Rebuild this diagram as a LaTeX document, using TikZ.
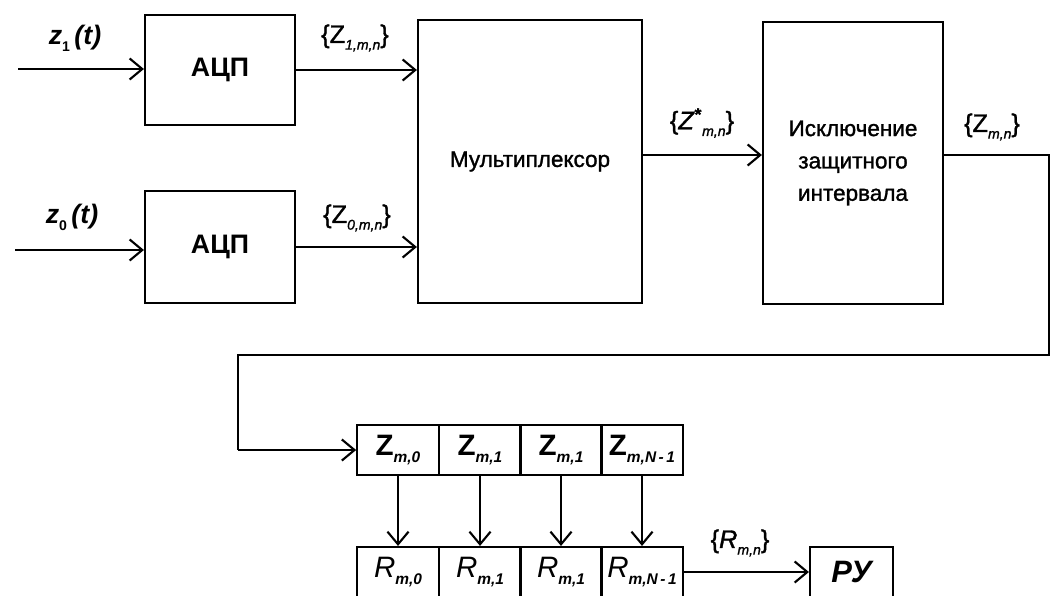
\documentclass[tikz,border=0pt]{standalone}
\usepackage{fontspec}
\setmainfont{Liberation Sans}
\newfontfamily\heavy[FakeBold=1.3]{Liberation Sans}
\usepackage{tikz}
\usetikzlibrary{arrows.meta,calc,positioning}

\newcommand{\sub}[1]{\raisebox{-0.45ex}{\fontsize{11}{11}\selectfont\bfseries\itshape #1}}
\newcommand{\lsub}[1]{\raisebox{-0.5ex}{\fontsize{10}{10}\selectfont\itshape #1}}

\begin{document}
\begin{tikzpicture}[
  x=0.025cm, y=-0.025cm,
  font=\fontsize{16}{23}\selectfont\heavy,
  >={Straight Barb[length=9pt,width=15pt,line width=1.5pt]},
  edge/.style={->,line width=1.5pt,draw=black},
  wire/.style={line width=1.5pt,draw=black},
  block/.style={draw=black,line width=1.5pt,align=center,inner sep=0pt},
  cell/.style={draw=black,line width=1.5pt,minimum width=2.04cm,
               minimum height=1.25cm,inner sep=0pt,
               font=\fontsize{21}{22}\selectfont},
  lbl/.style={inner sep=1pt,font=\fontsize{18}{20}\selectfont\heavy}
]
\useasboundingbox (0,0) rectangle (1052,595);
\clip (0,0) rectangle (1052,595);

% converters and multiplexer
\node[block,minimum width=3.75cm,minimum height=2.75cm,
      font=\fontsize{19}{20}\selectfont\bfseries] (adc1) at (220,70) {АЦП};
\node[block,minimum width=3.75cm,minimum height=2.8cm,
      font=\fontsize{19}{20}\selectfont\bfseries] (adc0) at (220,247) {АЦП};
\node[block,minimum width=5.6cm,minimum height=7.075cm] (mux) at (530,161.5)
  {Мультиплексор};
\node[block,minimum width=4.5cm,minimum height=7.05cm] (guard) at (853,163)
  {Исключение\\защитного\\интервала};

% inputs
\coordinate (in1) at (18,69);
\coordinate (in0) at (15,250);
\node[lbl,font=\fontsize{19}{20}\selectfont\bfseries\itshape] (z1) at (75,38)
  {z\lsub{\upshape 1}\,(t)};
\node[lbl,font=\fontsize{19}{20}\selectfont\bfseries\itshape] (z0) at (72,217)
  {z\lsub{\upshape 0}\,(t)};
\draw[edge] (in1) -- (adc1.west |- in1);
\draw[edge] (in0) -- (adc0.west |- in0);

\draw[edge] (adc1.east) -- (mux.west |- adc1.east);
\draw[edge] (adc0.east) -- (mux.west |- adc0.east);
\node[lbl] (l1) at (355,38) {\{Z\lsub{1,m,n}\}};
\node[lbl] (l0) at (357,218) {\{Z\lsub{0,m,n}\}};

\draw[edge] (mux.east |- 0,155) -- (guard.west |- 0,155);
\node[lbl] (lmux) at (702,123)
  {\{\textit{Z}\textsuperscript{\bfseries *}\lsub{m,n}\}};
\node[lbl] (lg) at (992,127) {\{Z\lsub{m,n}\}};

% register cells
\foreach \i/\xx/\s in {0/398/0,1/480/1,2/561/1,3/642/{N\,-\,1}}{
  \node[cell] (zc\i) at (\xx,450) {\textbf{Z}\sub{m,\s}};
  \node[cell] (rc\i) at (\xx,572) {\textit{R}\sub{m,\s}};
  \draw[edge] (zc\i) -- (rc\i);
}
\node[cell,minimum width=2.075cm,font=\fontsize{22}{22}\selectfont\bfseries\itshape]
  (ru) at (851.5,572) {РУ};

% feedback line
\coordinate (c1) at (1049,155);
\coordinate (c2) at (1049,355);
\coordinate (c3) at (238,355);
\draw[wire] (guard.east |- c1) -- (c1) -- (c2) -- (c3) -- (c3 |- zc0.west);
\draw[edge] (c3 |- zc0.west) -- (zc0.west);

\draw[edge] (rc3.east) -- (ru.west);
\node[lbl] (lr) at (740,543) {\{\textit{R}\lsub{m,n}\}};
\end{tikzpicture}
\end{document}
